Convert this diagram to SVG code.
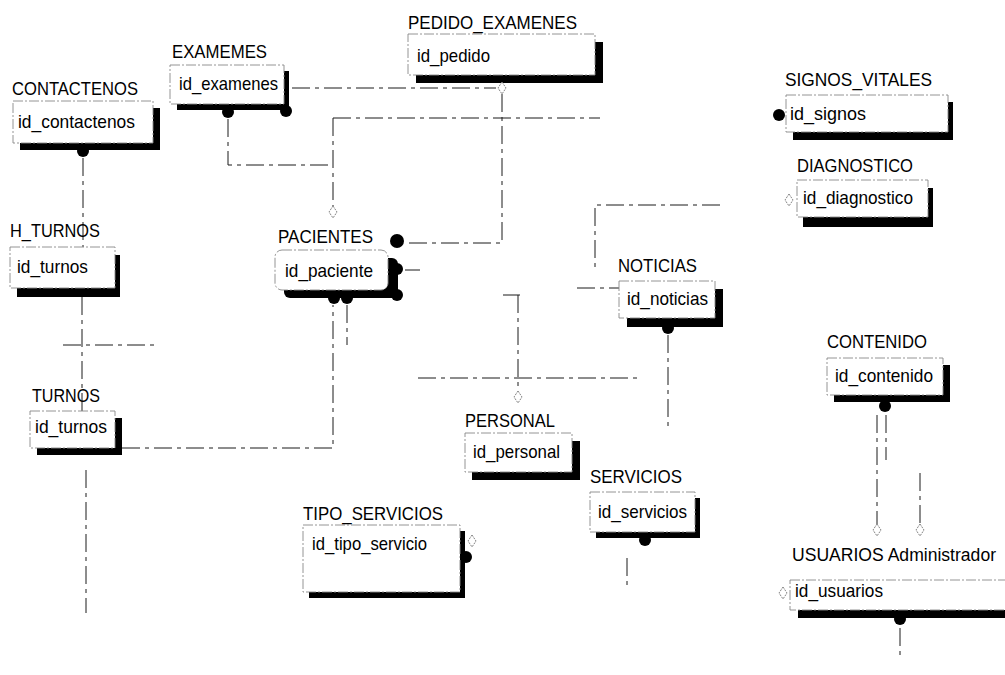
<svg xmlns="http://www.w3.org/2000/svg" width="1005" height="675" viewBox="0 0 1005 675">
  <style>
    .shadow { fill: #000; }
    .box { fill: #fff; stroke: #888; stroke-width: 0.9; stroke-dasharray: 10 2 2 2; }
    .title, .key { font-family: "Liberation Sans", Arial, sans-serif; font-size: 19px; fill: #000; }
    .title.long { font-size: 17.5px; }
    .rel { fill: none; stroke: #1a1a1a; stroke-width: 1; stroke-dasharray: 18 5 4 5; }
    .dot { fill: #000; }
    .open { fill: #fff; stroke: #777; stroke-width: 0.9; stroke-dasharray: 2 1; }
  </style>
  <defs>
    <path id="dia" d="M0,-6 L4,0 L0,6 L-4,0 Z"/>
  </defs>
  <rect width="1005" height="675" fill="#fff"/>

  <!-- relationship lines -->
  <g id="connectors">
    <path class="rel" d="M83,158 V247"/>
    <path class="rel" d="M82,297 V411"/>
    <path class="rel" d="M63,345 H157"/>
    <path class="rel" d="M86,470 V613"/>
    <path class="rel" d="M122,448 H333 V305"/>
    <path class="rel" d="M347,305 V345"/>
    <path class="rel" d="M228,119 V165 H333"/>
    <path class="rel" d="M333,118 V206"/>
    <path class="rel" d="M333,118 H600"/>
    <path class="rel" d="M292,88 H496"/>
    <path class="rel" d="M502,94 V243 H405"/>
    <path class="rel" d="M405,270 H420"/>
    <path class="rel" d="M720,205 H595 V270"/>
    <path class="rel" d="M577,288 H619"/>
    <path class="rel" d="M503,295 H520"/>
    <path class="rel" d="M518,295 V391"/>
    <path class="rel" d="M418,378 H640"/>
    <path class="rel" d="M668,335 V430"/>
    <path class="rel" d="M627,558 V590"/>
    <path class="rel" d="M877,415 V524"/>
    <path class="rel" d="M886,415 V460"/>
    <path class="rel" d="M920,473 V524"/>
    <path class="rel" d="M900,628 V660"/>
  </g>

  <g id="contactenos">
    <rect class="shadow" x="20" y="108" width="140" height="42"/>
    <rect class="box" x="13" y="101" width="140" height="42"/>
    <text class="title" x="12" y="95" textLength="126" lengthAdjust="spacingAndGlyphs">CONTACTENOS</text>
    <text class="key" x="18" y="128" textLength="117" lengthAdjust="spacingAndGlyphs">id_contactenos</text>
    <circle class="dot" cx="83" cy="151" r="6"/>
  </g>

  <g id="examemes">
    <rect class="shadow" x="177" y="71" width="112" height="39"/>
    <rect class="box" x="170" y="65" width="114" height="39"/>
    <text class="title" x="172" y="58" textLength="95" lengthAdjust="spacingAndGlyphs">EXAMEMES</text>
    <text class="key" x="179" y="90" textLength="99" lengthAdjust="spacingAndGlyphs">id_examenes</text>
    <circle class="dot" cx="228" cy="112" r="6"/>
    <circle class="dot" cx="286" cy="111" r="6"/>
  </g>

  <g id="pedido_examenes">
    <rect class="shadow" x="416" y="42" width="187" height="41"/>
    <rect class="box" x="408" y="34" width="187" height="41"/>
    <text class="title" x="408" y="29" textLength="169" lengthAdjust="spacingAndGlyphs">PEDIDO_EXAMENES</text>
    <text class="key" x="417" y="62" textLength="73" lengthAdjust="spacingAndGlyphs">id_pedido</text>
    <use href="#dia" class="open" x="502" y="88"/>
  </g>

  <g id="signos_vitales">
    <rect class="shadow" x="793" y="102" width="160" height="38"/>
    <rect class="box" x="786" y="95" width="162" height="37"/>
    <text class="title" x="785" y="86" textLength="147" lengthAdjust="spacingAndGlyphs">SIGNOS_VITALES</text>
    <text class="key" x="790" y="120" textLength="76" lengthAdjust="spacingAndGlyphs">id_signos</text>
    <circle class="dot" cx="779" cy="115" r="6"/>
  </g>

  <g id="diagnostico">
    <rect class="shadow" x="803" y="188" width="130" height="39"/>
    <rect class="box" x="797" y="180" width="131" height="37"/>
    <text class="title" x="797" y="172" textLength="116" lengthAdjust="spacingAndGlyphs">DIAGNOSTICO</text>
    <text class="key" x="803" y="204" textLength="110" lengthAdjust="spacingAndGlyphs">id_diagnostico</text>
    <use href="#dia" class="open" x="789" y="200"/>
  </g>

  <g id="h_turnos">
    <rect class="shadow" x="17" y="255" width="103" height="42"/>
    <rect class="box" x="10" y="247" width="105" height="41"/>
    <text class="title" x="10" y="237" textLength="90" lengthAdjust="spacingAndGlyphs">H_TURNOS</text>
    <text class="key" x="17" y="273" textLength="71" lengthAdjust="spacingAndGlyphs">id_turnos</text>
  </g>

  <g id="turnos">
    <rect class="shadow" x="37" y="418" width="85" height="37"/>
    <rect class="box" x="30" y="411" width="85" height="37"/>
    <text class="title" x="32" y="402" textLength="68" lengthAdjust="spacingAndGlyphs">TURNOS</text>
    <text class="key" x="35" y="433" textLength="72" lengthAdjust="spacingAndGlyphs">id_turnos</text>
  </g>

  <g id="pacientes">
    <rect class="shadow" x="284" y="258" width="114" height="40" rx="6"/>
    <rect class="box" x="275" y="250" width="113" height="40" rx="7"/>
    <text class="title" x="278" y="243" textLength="95" lengthAdjust="spacingAndGlyphs">PACIENTES</text>
    <text class="key" x="285" y="277" textLength="88" lengthAdjust="spacingAndGlyphs">id_paciente</text>
    <circle class="dot" cx="397" cy="241" r="7"/>
    <circle class="dot" cx="397" cy="269" r="6"/>
    <circle class="dot" cx="397" cy="295" r="6"/>
    <circle class="dot" cx="334" cy="298" r="6"/>
    <circle class="dot" cx="347" cy="298" r="6"/>
    <use href="#dia" class="open" x="333" y="212"/>
  </g>

  <g id="noticias">
    <rect class="shadow" x="627" y="289" width="96" height="38"/>
    <rect class="box" x="619" y="281" width="96" height="37"/>
    <text class="title" x="618" y="272" textLength="79" lengthAdjust="spacingAndGlyphs">NOTICIAS</text>
    <text class="key" x="627" y="305" textLength="81" lengthAdjust="spacingAndGlyphs">id_noticias</text>
    <circle class="dot" cx="668" cy="328" r="6"/>
  </g>

  <g id="contenido">
    <rect class="shadow" x="834" y="365" width="116" height="37"/>
    <rect class="box" x="827" y="358" width="116" height="37"/>
    <text class="title" x="827" y="348" textLength="100" lengthAdjust="spacingAndGlyphs">CONTENIDO</text>
    <text class="key" x="835" y="382" textLength="98" lengthAdjust="spacingAndGlyphs">id_contenido</text>
    <circle class="dot" cx="885" cy="406" r="6"/>
  </g>

  <g id="personal">
    <rect class="shadow" x="472" y="441" width="108" height="39"/>
    <rect class="box" x="465" y="433" width="107" height="39"/>
    <text class="title" x="465" y="427" textLength="90" lengthAdjust="spacingAndGlyphs">PERSONAL</text>
    <text class="key" x="473" y="458" textLength="87" lengthAdjust="spacingAndGlyphs">id_personal</text>
    <use href="#dia" class="open" x="518" y="397"/>
  </g>

  <g id="servicios">
    <rect class="shadow" x="596" y="498" width="104" height="40"/>
    <rect class="box" x="590" y="492" width="105" height="40"/>
    <text class="title" x="590" y="483" textLength="92" lengthAdjust="spacingAndGlyphs">SERVICIOS</text>
    <text class="key" x="598" y="518" textLength="89" lengthAdjust="spacingAndGlyphs">id_servicios</text>
    <circle class="dot" cx="645" cy="540" r="6"/>
  </g>

  <g id="tipo_servicios">
    <rect class="shadow" x="309" y="531" width="156" height="67"/>
    <rect class="box" x="303" y="525" width="157" height="67"/>
    <text class="title" x="303" y="520" textLength="140" lengthAdjust="spacingAndGlyphs">TIPO_SERVICIOS</text>
    <text class="key" x="312" y="550" textLength="115" lengthAdjust="spacingAndGlyphs">id_tipo_servicio</text>
    <circle class="dot" cx="466" cy="557" r="6"/>
    <use href="#dia" class="open" x="472" y="541"/>
  </g>

  <g id="usuarios">
    <rect class="shadow" x="798" y="588" width="220" height="30"/>
    <rect class="box" x="790" y="580" width="220" height="30"/>
    <text class="title long" x="792" y="561" textLength="204" lengthAdjust="spacingAndGlyphs">USUARIOS Administrador</text>
    <text class="key" x="795" y="597" textLength="88" lengthAdjust="spacingAndGlyphs">id_usuarios</text>
    <circle class="dot" cx="900" cy="619" r="6"/>
    <use href="#dia" class="open" x="877" y="530"/>
    <use href="#dia" class="open" x="920" y="530"/>
    <use href="#dia" class="open" x="783" y="593"/>
  </g>
</svg>
